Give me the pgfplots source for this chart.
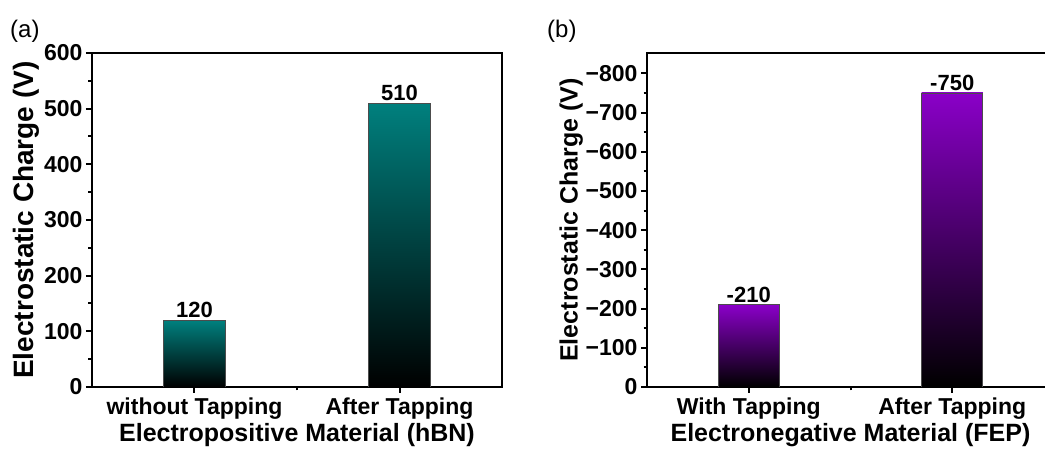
\documentclass[border=0pt]{standalone}
\usepackage{fontspec}
\setmainfont{Liberation Sans}
\usepackage{pgfplots}
\pgfplotsset{compat=1.18}
\definecolor{tealc}{RGB}{0,128,126}
\definecolor{purc}{RGB}{138,0,200}
\pgfplotsset{
  common/.style={
    scale only axis,
    anchor=south west,
    height=334pt,
    xmin=0.5, xmax=2.5,
    ymin=0,
    axis line style={line width=2.6pt},
    every tick/.style={line width=2pt, black},
    tick align=outside,
    major tick length=6pt,
    minor tick length=3.5pt,
    xtick={1,2},
    minor xtick={1.5},
    xtick pos=bottom, ytick pos=left,
    /pgf/number format/assume math mode=true,
    tick label style={font=\fontsize{23}{27}\selectfont\bfseries},
    xticklabel style={yshift=-1pt},
    xlabel style={font=\fontsize{25}{29}\selectfont\bfseries, yshift=3pt},
    ylabel near ticks,
    bar width=0.3,
    nodes near coords style={font=\fontsize{22}{25}\selectfont\bfseries, black, inner sep=2pt},
  },
  tbar/.style={ybar, bar shift=0pt, draw=black!70, line width=0.6pt,
    top color=tealc, middle color=tealc!88!black, bottom color=black, nodes near coords},
  pbar/.style={ybar, bar shift=0pt, draw=black!70, line width=0.6pt,
    top color=purc, middle color=purc!82!black, bottom color=black,
    nodes near coords={-\pgfmathprintnumber{\pgfplotspointmeta}}},
}
\begin{document}
\begin{tikzpicture}[x=1pt,y=1pt]
\path[use as bounding box, clip] (0,0) rectangle (1045,452);
\node[anchor=north west, inner sep=0pt, font=\fontsize{24}{28}\selectfont] at (10,432) {(a)};
\node[anchor=north west, inner sep=0pt, font=\fontsize{24}{28}\selectfont] at (547,432) {(b)};
\begin{axis}[common,
  at={(92pt,65pt)},
  width=410pt,
  ymax=600,
  ytick={0,100,...,600},
  minor ytick={50,150,...,550},
  xticklabels={without Tapping, After Tapping},
  xlabel={Electropositive Material (hBN)},
  ylabel={Electrostatic Charge (V)},
  ylabel style={font=\fontsize{28}{32}\selectfont\bfseries, yshift=-2pt},
]
\addplot[tbar] coordinates {(1,120)};
\addplot[tbar] coordinates {(2,510)};
\end{axis}
\begin{axis}[common,
  at={(647pt,65pt)},
  width=407pt,
  ymax=852,
  ytick={0,100,...,800},
  yticklabels={0,−100,−200,−300,−400,−500,−600,−700,−800},
  minor ytick={50,150,...,750},
  xticklabels={With Tapping, After Tapping},
  xlabel={Electronegative Material (FEP)},
  ylabel={Electrostatic Charge (V)},
  ylabel style={font=\fontsize{25}{29}\selectfont\bfseries, yshift=-4pt},
]
\addplot[pbar] coordinates {(1,210)};
\addplot[pbar] coordinates {(2,750)};
\end{axis}
\end{tikzpicture}
\end{document}
